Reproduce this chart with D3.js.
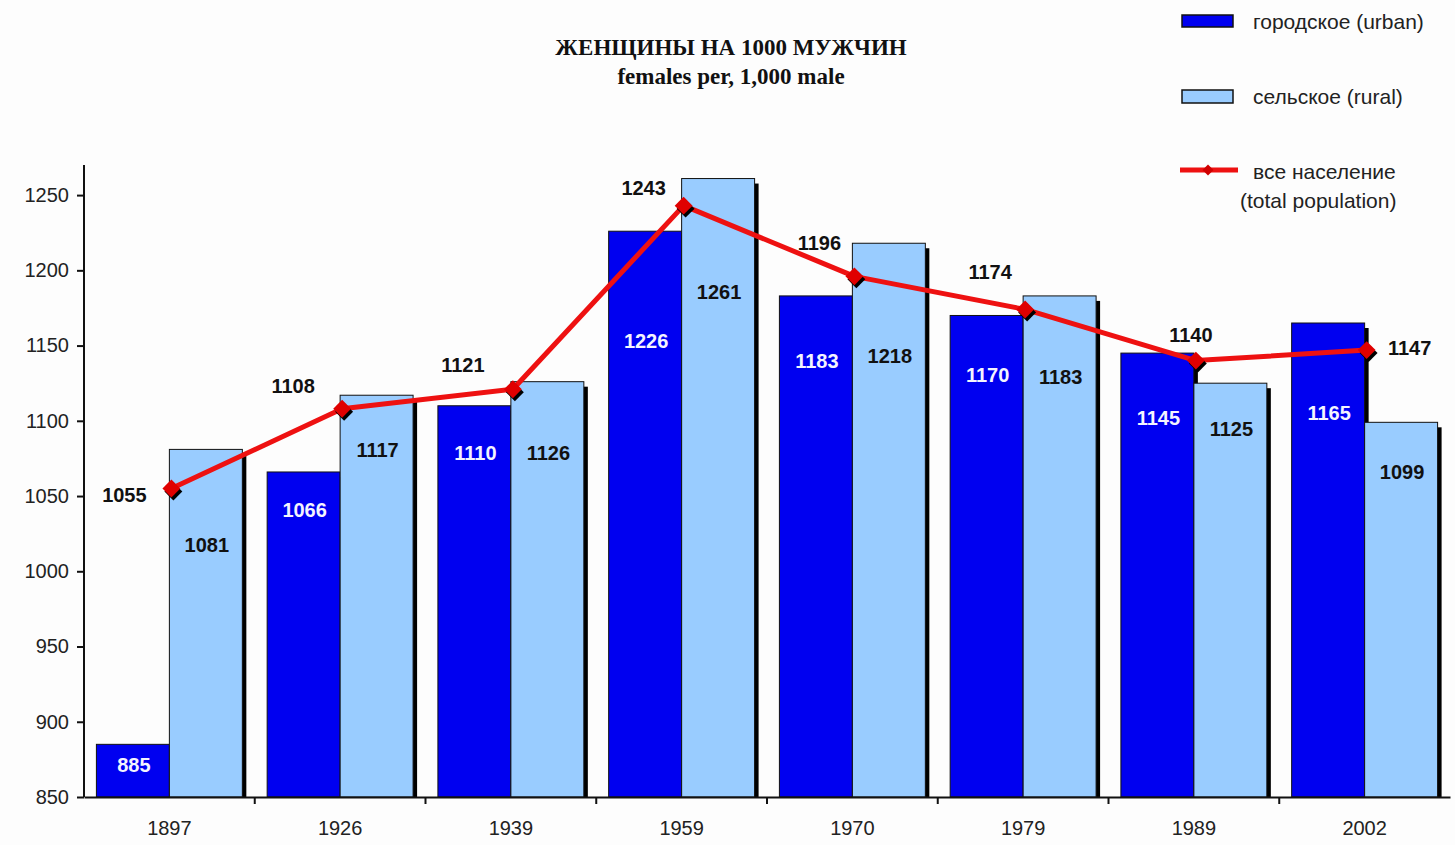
<!DOCTYPE html>
<html>
<head>
<meta charset="utf-8">
<script src="https://cdn.jsdelivr.net/npm/d3@7"></script>
<style>
  body { margin: 0; background: #fdfdfd; }
  svg { display: block; }
</style>
</head>
<body>
<div id="chart"></div>
<script>
// chart data
const years = ["1897", "1926", "1939", "1959", "1970", "1979", "1989", "2002"];
const urban = [885, 1066, 1110, 1226, 1183, 1170, 1145, 1165];
const rural = [1081, 1117, 1126, 1261, 1218, 1183, 1125, 1099];
const total = [1055, 1108, 1121, 1243, 1196, 1174, 1140, 1147];
const yTicks = [850, 900, 950, 1000, 1050, 1100, 1150, 1200, 1250];

// where labels sit (layout, not data)
const urbanLabelDrop = [21, 38, 47, 110, 65, 60, 65, 90];
const ruralLabelDrop = [96, 55, 71, 113, 113, 81, 46, 50];
const totalLabelDx = [-47, -49, -50, -40, -35, -35, -5, 43];
const totalLabelDy = [13, -16, -17, -11, -26, -30, -19, 5];

const width = 1455;
const height = 845;
const margin = {left: 84, right: 5, top: 165, bottom: 48};

const svg = d3.select("#chart")
  .append("svg")
  .attr("width", width)
  .attr("height", height);

// scales
const x = d3.scaleBand()
  .domain(years)
  .range([margin.left, width - margin.right]);

const xSub = d3.scaleBand()
  .domain(["urban", "rural"])
  .range([0, x.bandwidth()])
  .paddingOuter(0.17);

const y = d3.scaleLinear()
  .domain([850, 1270])
  .range([height - margin.bottom, margin.top]);

const rows = years.map((yr, i) => ({year: yr, i: i, urban: urban[i], rural: rural[i], total: total[i]}));
const bars = [];
rows.forEach(d => {
  bars.push({year: d.year, i: d.i, key: "urban", v: d.urban});
  bars.push({year: d.year, i: d.i, key: "rural", v: d.rural});
});

const colors = {urban: "#0000f0", rural: "#99ccff"};

// shadows first
svg.append("g").selectAll("rect")
  .data(bars)
  .enter()
  .append("rect")
    .attr("x", d => x(d.year) + xSub(d.key) + 4)
    .attr("y", d => y(d.v) + 5)
    .attr("width", xSub.bandwidth())
    .attr("height", d => y(850) - y(d.v) - 5)
    .attr("fill", "#000");

// bars
svg.append("g").selectAll("rect")
  .data(bars)
  .enter()
  .append("rect")
    .attr("x", d => x(d.year) + xSub(d.key))
    .attr("y", d => y(d.v))
    .attr("width", xSub.bandwidth())
    .attr("height", d => y(850) - y(d.v))
    .attr("fill", d => colors[d.key])
    .attr("stroke", "#111")
    .attr("stroke-width", 1);

// bar labels
svg.append("g").selectAll("text")
  .data(bars)
  .enter()
  .append("text")
    .attr("x", d => x(d.year) + xSub(d.key) + xSub.bandwidth() / 2 + 1)
    .attr("y", d => y(d.v) + (d.key == "urban" ? urbanLabelDrop[d.i] : ruralLabelDrop[d.i]) + 7)
    .attr("text-anchor", "middle")
    .attr("font-family", "Liberation Sans, Arial, sans-serif")
    .attr("font-weight", "bold")
    .attr("font-size", "20px")
    .attr("fill", d => d.key == "urban" ? "#f4f4ff" : "#111")
    .text(d => d.v);

// axes
const yAxis = svg.append("g")
  .attr("transform", `translate(${margin.left},0)`)
  .call(d3.axisLeft(y).tickValues(yTicks).tickFormat(d3.format("d"))
    .tickSize(7).tickPadding(8).tickSizeOuter(0));

const xAxis = svg.append("g")
  .attr("transform", `translate(0,${height - margin.bottom})`)
  .call(d3.axisBottom(x).tickSize(0).tickPadding(24).tickSizeOuter(0));

[yAxis, xAxis].forEach(a => {
  a.select(".domain").attr("stroke", "#111").attr("stroke-width", 2);
  a.selectAll("line").attr("stroke", "#111").attr("stroke-width", 2);
  a.selectAll("text")
    .attr("font-family", "Liberation Sans, Arial, sans-serif")
    .attr("font-size", "20px")
    .attr("fill", "#222");
});
yAxis.select(".domain").attr("d", `M0,${y(850)}V${margin.top}`);

// category boundary ticks on x axis
svg.append("g").selectAll("line")
  .data(years.slice(1))
  .enter()
  .append("line")
    .attr("x1", d => x(d))
    .attr("x2", d => x(d))
    .attr("y1", y(850))
    .attr("y2", y(850) + 7)
    .attr("stroke", "#111")
    .attr("stroke-width", 2);

// total population line
const cx = d => x(d.year) + x.bandwidth() / 2 + 2;
const line = d3.line()
  .x(cx)
  .y(d => y(d.total));

svg.append("path")
  .datum(rows)
  .attr("d", line)
  .attr("fill", "none")
  .attr("stroke", "#ee1111")
  .attr("stroke-width", 5)
  .attr("stroke-linejoin", "round");

const diamond = d3.symbol().type(d3.symbolSquare).size(160);

svg.append("g").selectAll("path")
  .data(rows)
  .enter()
  .append("path")
    .attr("d", diamond)
    .attr("transform", d => `translate(${cx(d) + 2},${y(d.total) + 3}) rotate(45)`)
    .attr("fill", "#000");

svg.append("g").selectAll("path")
  .data(rows)
  .enter()
  .append("path")
    .attr("d", diamond)
    .attr("transform", d => `translate(${cx(d)},${y(d.total)}) rotate(45)`)
    .attr("fill", "#e00000");

// total labels
svg.append("g").selectAll("text")
  .data(rows)
  .enter()
  .append("text")
    .attr("x", d => cx(d) + totalLabelDx[d.i])
    .attr("y", d => y(d.total) + totalLabelDy[d.i])
    .attr("text-anchor", "middle")
    .attr("font-family", "Liberation Sans, Arial, sans-serif")
    .attr("font-weight", "bold")
    .attr("font-size", "20px")
    .attr("fill", "#111")
    .text(d => d.total);

// title
const title = svg.append("g")
  .attr("font-family", "Liberation Serif, Times New Roman, serif")
  .attr("font-weight", "bold")
  .attr("font-size", "23px")
  .attr("fill", "#111")
  .attr("text-anchor", "middle");
title.append("text").attr("x", 731).attr("y", 55).text("ЖЕНЩИНЫ НА 1000 МУЖЧИН");
title.append("text").attr("x", 731).attr("y", 84).text("females per, 1,000 male");

// legend
const legend = svg.append("g")
  .attr("font-family", "Liberation Sans, Arial, sans-serif")
  .attr("font-size", "21px")
  .attr("fill", "#222");

legend.append("rect").attr("x", 1182).attr("y", 15).attr("width", 51).attr("height", 12)
  .attr("fill", colors.urban).attr("stroke", "#111").attr("stroke-width", 1.5);
legend.append("text").attr("x", 1253).attr("y", 29).text("городское (urban)");

legend.append("rect").attr("x", 1182).attr("y", 90).attr("width", 51).attr("height", 13)
  .attr("fill", colors.rural).attr("stroke", "#111").attr("stroke-width", 1.5);
legend.append("text").attr("x", 1253).attr("y", 104).text("сельское (rural)");

legend.append("line").attr("x1", 1180).attr("x2", 1238).attr("y1", 170).attr("y2", 170)
  .attr("stroke", "#ee1111").attr("stroke-width", 5);
legend.append("path").attr("d", d3.symbol().type(d3.symbolSquare).size(60))
  .attr("transform", "translate(1208,170) rotate(45)").attr("fill", "#d00000");
legend.append("text").attr("x", 1253).attr("y", 179).text("все население");
legend.append("text").attr("x", 1240).attr("y", 208).text("(total population)");
</script>
</body>
</html>
